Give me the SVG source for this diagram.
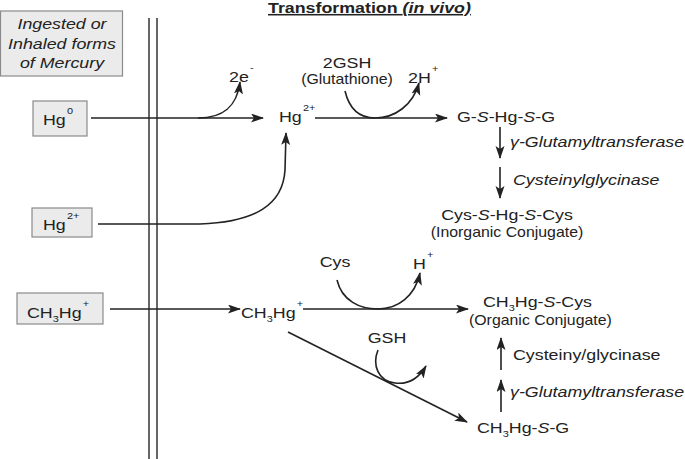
<svg xmlns="http://www.w3.org/2000/svg" width="685" height="459" viewBox="0 0 685 459">
<style>
.t{font-family:"Liberation Sans",Arial,sans-serif;font-size:15.5px;fill:#222}
.sm{font-size:13.8px}
.sup{font-size:9.5px}
.i{font-style:italic}
.b{font-weight:bold}
.box{fill:#ebebeb;stroke:#8a8a8a;stroke-width:1.2}
.ln{fill:none;stroke:#222;stroke-width:1.6}
.ar{fill:none;stroke:#222;stroke-width:1.6;marker-end:url(#ah)}
.mem{stroke:#333;stroke-width:1.5}
</style>
<defs>
<marker id="ah" markerUnits="userSpaceOnUse" markerWidth="14" markerHeight="10" refX="12" refY="4.5" orient="auto" viewBox="0 0 14 10">
<path d="M0,0 L13,4.5 L0,9 L3,4.5 z" fill="#222"/>
</marker>
</defs>
<rect width="685" height="459" fill="#fff"/>

<g id="membrane">
<line class="mem" x1="149" y1="18" x2="149" y2="459"/>
<line class="mem" x1="157" y1="18" x2="157" y2="459"/>
</g>

<g id="title">
<text class="t b" transform="translate(268,13) scale(1.15,1)" text-decoration="underline">Transformation <tspan class="i">(in vivo)</tspan></text>
</g>

<g id="legend-box">
<rect class="box" x="0.5" y="11" width="122" height="65"/>
<text class="t i" text-anchor="middle" transform="translate(62,29) scale(1.15,1)">Ingested or</text>
<text class="t i" text-anchor="middle" transform="translate(62,49) scale(1.15,1)">Inhaled forms</text>
<text class="t i" text-anchor="middle" transform="translate(62,68) scale(1.15,1)">of Mercury</text>
</g>

<g id="hg0">
<rect class="box" x="33" y="101" width="54" height="35"/>
<text class="t" transform="translate(43,125) scale(1.15,1)">Hg<tspan class="sup" dx="1" dy="-11">0</tspan></text>
</g>

<g id="hg2-in">
<rect class="box" x="32" y="208" width="60" height="29"/>
<text class="t" transform="translate(43,230) scale(1.15,1)">Hg<tspan class="sup" dx="1" dy="-11">2+</tspan></text>
</g>

<g id="ch3hg-in">
<rect class="box" x="17" y="293" width="86" height="31"/>
<text class="t" transform="translate(27,318) scale(1.15,1)">CH<tspan class="sup" dy="4">3</tspan><tspan dy="-4">Hg</tspan><tspan class="sup" dx="1" dy="-11">+</tspan></text>
</g>

<g id="hg2">
<text class="t" transform="translate(279,122) scale(1.15,1)">Hg<tspan class="sup" dx="1" dy="-11">2+</tspan></text>
</g>

<g id="e2">
<text class="t" transform="translate(229,82) scale(1.15,1)">2e<tspan class="sup" dx="1" dy="-11">-</tspan></text>
</g>

<g id="gsh2">
<text class="t" text-anchor="middle" transform="translate(347,68) scale(1.15,1)">2GSH</text>
<text class="t sm" text-anchor="middle" transform="translate(347,84) scale(1.15,1)">(Glutathione)</text>
</g>

<g id="h2">
<text class="t" transform="translate(408,83) scale(1.15,1)">2H<tspan class="sup" dx="1" dy="-11">+</tspan></text>
</g>

<g id="gshg">
<text class="t" transform="translate(457,122) scale(1.15,1)">G-<tspan class="i">S</tspan>-Hg-<tspan class="i">S</tspan>-G</text>
</g>

<g id="enz1">
<text class="t i" transform="translate(510,147) scale(1.15,1)">γ-Glutamyltransferase</text>
<text class="t i" transform="translate(513,185) scale(1.15,1)">Cysteinylglycinase</text>
</g>

<g id="inorganic">
<text class="t" text-anchor="middle" transform="translate(507,220) scale(1.15,1)">Cys-<tspan class="i">S</tspan>-Hg-<tspan class="i">S</tspan>-Cys</text>
<text class="t sm" text-anchor="middle" transform="translate(507,237) scale(1.15,1)">(Inorganic Conjugate)</text>
</g>

<g id="ch3hg">
<text class="t" transform="translate(241,318) scale(1.15,1)">CH<tspan class="sup" dy="4">3</tspan><tspan dy="-4">Hg</tspan><tspan class="sup" dx="1" dy="-11">+</tspan></text>
</g>

<g id="cys">
<text class="t" text-anchor="middle" transform="translate(335,267) scale(1.15,1)">Cys</text>
</g>

<g id="hplus">
<text class="t" transform="translate(413,269) scale(1.15,1)">H<tspan class="sup" dx="1" dy="-11">+</tspan></text>
</g>

<g id="organic">
<text class="t" transform="translate(483,307) scale(1.15,1)">CH<tspan class="sup" dy="4">3</tspan><tspan dy="-4">Hg-</tspan><tspan class="i">S</tspan>-Cys</text>
<text class="t sm" transform="translate(469,325) scale(1.15,1)">(Organic Conjugate)</text>
</g>

<g id="enz2">
<text class="t" transform="translate(513,360) scale(1.15,1)">Cysteiny/glycinase</text>
<text class="t i" transform="translate(510,397) scale(1.15,1)">γ-Glutamyltransferase</text>
</g>

<g id="ch3hgsg">
<text class="t" transform="translate(477,433) scale(1.15,1)">CH<tspan class="sup" dy="4">3</tspan><tspan dy="-4">Hg-</tspan><tspan class="i">S</tspan>-G</text>
</g>

<g id="gsh">
<text class="t" text-anchor="middle" transform="translate(387,343) scale(1.15,1)">GSH</text>
</g>

<g id="connectors">
<path class="ar" d="M91,118 H263"/>
<path class="ar" d="M198,118 C224,118 237,106 240,82"/>
<path class="ar" d="M98,224 H200 C255,222 283,205 285,170 L286,133"/>
<path class="ar" d="M315,118 H447"/>
<path class="ar" d="M345,91 C350,112 362,118 375,118 C395,118 413,105 419,83"/>
<path class="ar" d="M500,127 V158"/>
<path class="ar" d="M500,167 V198"/>
<path class="ar" d="M110,309 H240"/>
<path class="ar" d="M303,309 H468"/>
<path class="ar" d="M337,280 C342,301 360,309 378,309 C398,309 415,296 420,273"/>
<path class="ar" d="M501,370 V338"/>
<path class="ar" d="M501,412 V380"/>
<path class="ar" d="M288,332 L467,422"/>
<path class="ar" d="M378,350 C372,365 378,381 395,383 C410,385 420,376 426,366"/>
</g>
</svg>
